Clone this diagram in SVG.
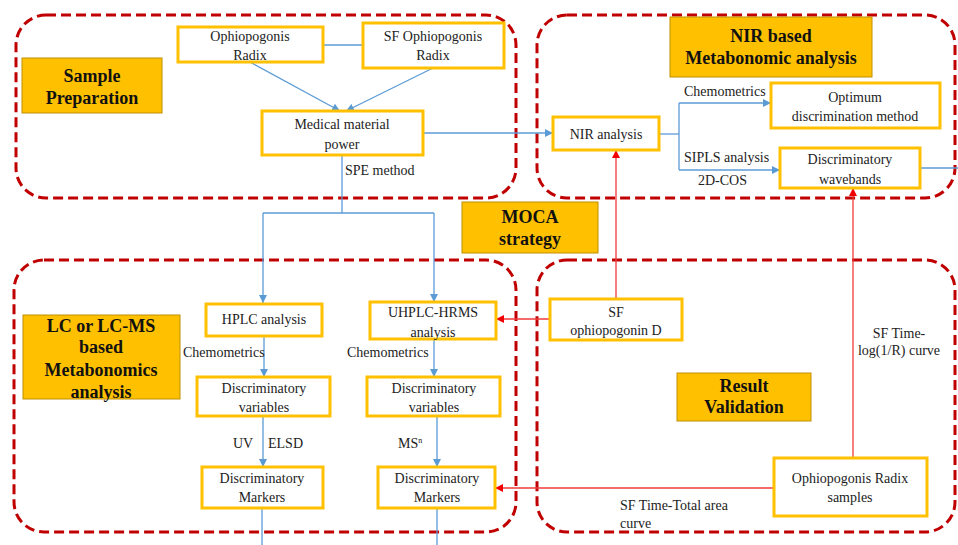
<svg xmlns="http://www.w3.org/2000/svg" width="958" height="545" viewBox="0 0 958 545">
<style>
.grp{fill:none;stroke:#C00000;stroke-width:3;stroke-dasharray:10,5}
.box{fill:#fff;stroke:#FFC000;stroke-width:3}
.ttl{fill:#FFC000;stroke:#BF9000;stroke-width:1}
text{font-family:Liberation Serif, Tinos, Times, serif;font-size:14px;fill:#222}
.c{text-anchor:middle}
.b{font-weight:bold;font-size:18px;fill:#111}
.bl{fill:none;stroke:#5B9BD5;stroke-width:1.3}
.rd{fill:none;stroke:#F03A3A;stroke-width:1.3}
</style>
<defs>
<marker id="ab" viewBox="0 0 10 10" refX="10" refY="5" markerWidth="8" markerHeight="8" markerUnits="userSpaceOnUse" orient="auto"><path d="M0,0 L10,5 L0,10 z" fill="#5B9BD5"/></marker>
<marker id="ar" viewBox="0 0 10 10" refX="10" refY="5" markerWidth="8" markerHeight="8" markerUnits="userSpaceOnUse" orient="auto"><path d="M0,0 L10,5 L0,10 z" fill="#F00000"/></marker>
</defs>
<rect width="958" height="545" fill="#fff"/>
<g id="groups">
<rect class="grp" x="16" y="15" width="500" height="183" rx="30"/>
<rect class="grp" x="537" y="15" width="418" height="183" rx="30"/>
<rect class="grp" x="14" y="260" width="502" height="272" rx="30"/>
<rect class="grp" x="537" y="260" width="418" height="272" rx="30"/>
</g>
<g id="connectors">
<path class="bl" d="M323,45 H363"/>
<path class="bl" d="M250,62 L340,111" marker-end="url(#ab)"/>
<path class="bl" d="M433,68 L346,111" marker-end="url(#ab)"/>
<path class="bl" d="M423,133 H553" marker-end="url(#ab)"/>
<path class="bl" d="M342,155 V213"/>
<path class="bl" d="M263,213 H434"/>
<path class="bl" d="M263,213 V303" marker-end="url(#ab)"/>
<path class="bl" d="M434,213 V302" marker-end="url(#ab)"/>
<path class="bl" d="M659,134 H679"/>
<path class="bl" d="M679,103 V170"/>
<path class="bl" d="M679,103 H771" marker-end="url(#ab)"/>
<path class="bl" d="M679,170 H780" marker-end="url(#ab)"/>
<path class="bl" d="M920,168 H958"/>
<path class="bl" d="M264,336 V377" marker-end="url(#ab)"/>
<path class="bl" d="M434,339 V377" marker-end="url(#ab)"/>
<path class="bl" d="M263,416 V467" marker-end="url(#ab)"/>
<path class="bl" d="M437,416 V467" marker-end="url(#ab)"/>
<path class="bl" d="M262,508 V545"/>
<path class="bl" d="M437,508 V545"/>
<path class="rd" d="M616,299 V150" marker-end="url(#ar)"/>
<path class="rd" d="M550,319 H496" marker-end="url(#ar)"/>
<path class="rd" d="M853,458 V188" marker-end="url(#ar)"/>
<path class="rd" d="M774,488 H495" marker-end="url(#ar)"/>
<text x="345" y="175">SPE method</text>
<text x="684" y="96">Chemometrics</text>
<text x="684" y="162">SIPLS analysis</text>
<text x="698" y="185">2D-COS</text>
<text x="183" y="357">Chemometrics</text>
<text x="347" y="357">Chemometrics</text>
<text x="233" y="448">UV</text>
<text x="268" y="448">ELSD</text>
<text x="398" y="448">MS<tspan font-size="8" dy="-5">n</tspan></text>
<text class="c" x="899" y="338">SF Time-</text>
<text class="c" x="899" y="355">log(1/R) curve</text>
<text x="620" y="510">SF Time-Total area</text>
<text x="620" y="528">curve</text>
</g>
<g id="sample-prep"><rect class="ttl" x="22" y="58" width="140" height="55"/><text class="c b" x="92" y="82">Sample</text><text class="c b" x="92" y="104">Preparation</text></g>
<g id="nir-title"><rect class="ttl" x="670" y="17" width="202" height="60"/><text class="c b" x="771" y="42">NIR based</text><text class="c b" x="771" y="64">Metabonomic analysis</text></g>
<g id="moca"><rect class="ttl" x="462" y="202" width="136" height="51"/><text class="c b" x="530" y="223">MOCA</text><text class="c b" x="530" y="245">strategy</text></g>
<g id="lc-title"><rect class="ttl" x="23" y="315" width="157" height="84"/><text class="c b" x="101" y="332">LC or LC-MS</text><text class="c b" x="101" y="353">based</text><text class="c b" x="101" y="376">Metabonomics</text><text class="c b" x="101" y="398">analysis</text></g>
<g id="result"><rect class="ttl" x="677" y="373" width="134" height="48"/><text class="c b" x="744" y="392">Result</text><text class="c b" x="744" y="413">Validation</text></g>
<g id="oph-radix"><rect class="box" x="178" y="27" width="145" height="35"/><text class="c" x="250" y="41">Ophiopogonis</text><text class="c" x="250" y="60">Radix</text></g>
<g id="sf-oph-radix"><rect class="box" x="363" y="23" width="141" height="45"/><text class="c" x="433" y="41">SF Ophiopogonis</text><text class="c" x="433" y="60">Radix</text></g>
<g id="medical"><rect class="box" x="262" y="111" width="161" height="44"/><text class="c" x="342" y="129">Medical  material</text><text class="c" x="342" y="149">power</text></g>
<g id="nir-analysis"><rect class="box" x="553" y="117" width="106" height="33"/><text class="c" x="606" y="139">NIR analysis</text></g>
<g id="optimum"><rect class="box" x="771" y="83" width="169" height="45"/><text class="c" x="855" y="102">Optimum</text><text class="c" x="855" y="121">discrimination  method</text></g>
<g id="wavebands"><rect class="box" x="780" y="148" width="140" height="40"/><text class="c" x="850" y="164">Discriminatory</text><text class="c" x="850" y="184">wavebands</text></g>
<g id="hplc"><rect class="box" x="206" y="304" width="116" height="32"/><text class="c" x="264" y="324">HPLC analysis</text></g>
<g id="uhplc"><rect class="box" x="370" y="302" width="126" height="37"/><text class="c" x="433" y="317">UHPLC-HRMS</text><text class="c" x="433" y="337">analysis</text></g>
<g id="var1"><rect class="box" x="197" y="377" width="133" height="39"/><text class="c" x="264" y="393">Discriminatory</text><text class="c" x="264" y="412">variables</text></g>
<g id="var2"><rect class="box" x="367" y="377" width="133" height="39"/><text class="c" x="434" y="393">Discriminatory</text><text class="c" x="434" y="412">variables</text></g>
<g id="mark1"><rect class="box" x="202" y="467" width="121" height="41"/><text class="c" x="262" y="483">Discriminatory</text><text class="c" x="262" y="502">Markers</text></g>
<g id="mark2"><rect class="box" x="378" y="467" width="117" height="41"/><text class="c" x="437" y="483">Discriminatory</text><text class="c" x="437" y="502">Markers</text></g>
<g id="sf-oph-d"><rect class="box" x="550" y="299" width="132" height="41"/><text class="c" x="616" y="317">SF</text><text class="c" x="616" y="335">ophiopogonin  D</text></g>
<g id="samples"><rect class="box" x="774" y="458" width="153" height="58"/><text class="c" x="850" y="483">Ophiopogonis  Radix</text><text class="c" x="850" y="502">samples</text></g>
</svg>
